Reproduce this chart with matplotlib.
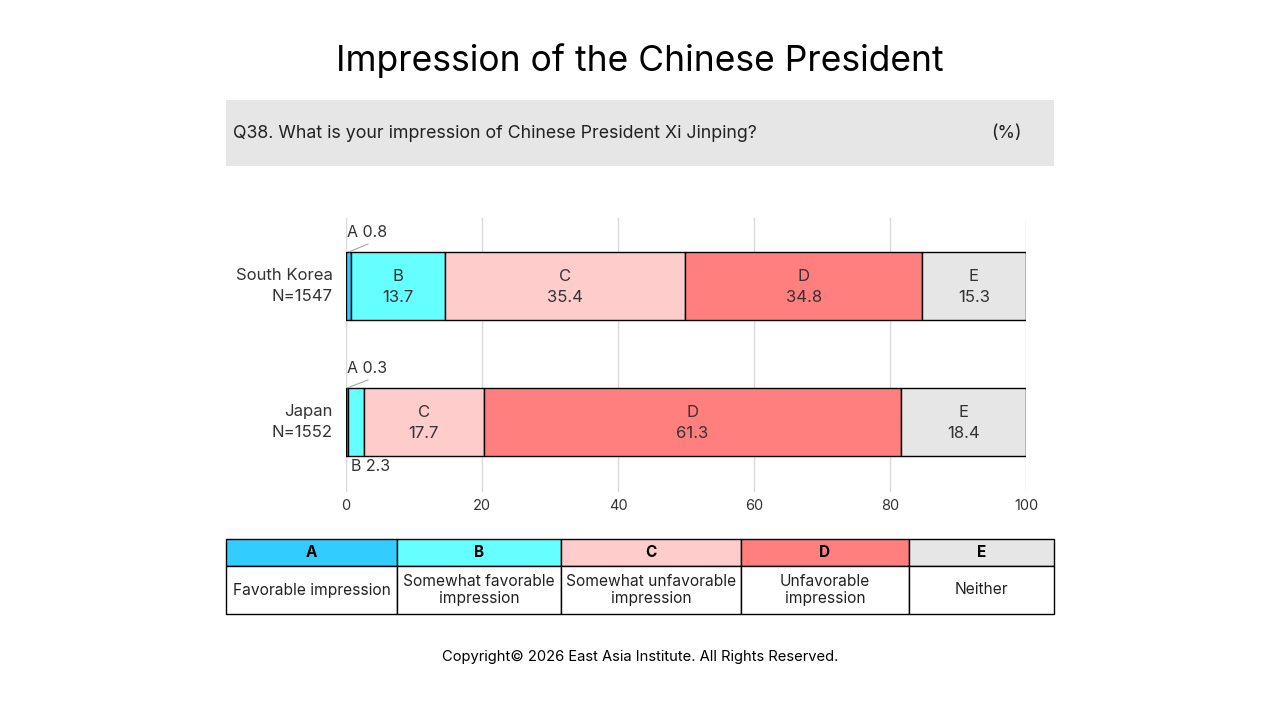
import matplotlib
matplotlib.use("Agg")
import matplotlib.pyplot as plt
from matplotlib.patches import Rectangle

plt.rcParams['font.family'] = ['Inter', 'DejaVu Sans']

countries = ["South Korea\nN=1547", "Japan\nN=1552"]
codes = ["A", "B", "C", "D", "E"]
descriptions = ["Favorable impression", "Somewhat favorable\nimpression",
                "Somewhat unfavorable\nimpression", "Unfavorable\nimpression", "Neither"]
values = {
    "A": [0.8, 0.3],
    "B": [13.7, 2.3],
    "C": [35.4, 17.7],
    "D": [34.8, 61.3],
    "E": [15.3, 18.4],
}
colors = {"A": "#33CCFF", "B": "#66FFFF", "C": "#FFCCCC", "D": "#FF7F7F", "E": "#E6E6E6"}
xticks = [0, 20, 40, 60, 80, 100]

W, H = 1280, 720
fig = plt.figure(figsize=(12.8, 7.2), dpi=100)

def fx(px):
    return px / W

def fy(py):
    return 1 - py / H

# Title
fig.text(0.5, fy(61), "Impression of the Chinese President", ha="center", va="center",
         fontsize=25.5, color="black")

# Question box
fig.patches.append(Rectangle((fx(226), fy(166)), fx(1054) - fx(226), fy(100) - fy(166),
                             transform=fig.transFigure, facecolor="#E6E6E6", edgecolor="none"))
fig.text(fx(233), fy(133), "Q38. What is your impression of Chinese President Xi Jinping?",
         ha="left", va="center", fontsize=12.8, color="#222222")
fig.text(fx(1006), fy(133), "(%)", ha="center", va="center", fontsize=12.8, color="#222222")

# Chart axes
ax = fig.add_axes([fx(346), fy(492), fx(1026) - fx(346), fy(218) - fy(492)])
ax.set_xlim(0, 100)
ax.set_ylim(1.515, -0.5)
ax.set_xticks(xticks)
ax.set_xticklabels([str(t) for t in xticks], fontsize=10.5, color="#333333")
ax.tick_params(axis="x", length=0, pad=5)
ax.set_yticks([])
for s in ax.spines.values():
    s.set_visible(False)
ax.grid(axis="x", color="#D9D9D9", linewidth=1)
ax.set_axisbelow(True)

ypos = [0, 1]
left = [0.0, 0.0]
for c in codes:
    vals = values[c]
    ax.barh(ypos, vals, left=left, height=0.5, color=colors[c], edgecolor="black", linewidth=1)
    for i, v in enumerate(vals):
        if v >= 5:
            ax.text(left[i] + v / 2, ypos[i] + 0.01, f"{c}\n{v}", ha="center", va="center",
                    fontsize=12, color="#333333", linespacing=1.5)
    left = [left[i] + vals[i] for i in range(len(vals))]

# Small-value annotations
for i in range(2):
    va_ = values["A"][i]
    ax.plot([va_ / 2, 3.3], [ypos[i] - 0.25, ypos[i] - 0.31], color="#A6A6A6", lw=0.8,
            solid_capstyle="butt")
    ax.text(0.2, ypos[i] - 0.335, f"A {va_}", ha="left", va="bottom", fontsize=11.5,
            color="#333333")
bj = values["B"][1]
ax.text(0.8, ypos[1] + 0.27, f"B {bj}", ha="left", va="top", fontsize=11.5, color="#333333")

# Country labels
for i, lab in enumerate(countries):
    ax.text(-2, ypos[i], lab, ha="right", va="center", fontsize=12, color="#333333",
            linespacing=1.5)

# Legend table
cols = [226, 397, 561, 741, 909, 1054]
top, mid, bot = 539, 566, 614
for j, c in enumerate(codes):
    x0, x1 = cols[j], cols[j + 1]
    fig.patches.append(Rectangle((fx(x0), fy(mid)), fx(x1) - fx(x0), fy(top) - fy(mid),
                                 transform=fig.transFigure, facecolor=colors[c],
                                 edgecolor="black", linewidth=1))
    fig.patches.append(Rectangle((fx(x0), fy(bot)), fx(x1) - fx(x0), fy(mid) - fy(bot),
                                 transform=fig.transFigure, facecolor="white",
                                 edgecolor="black", linewidth=1))
    fig.text(fx((x0 + x1) / 2), fy((top + mid) / 2), c, ha="center", va="center",
             fontsize=11, fontweight="bold", color="black")
    fig.text(fx((x0 + x1) / 2), fy((mid + bot) / 2), descriptions[j], ha="center",
             va="center", fontsize=11.2, color="#222222", linespacing=1.15)

# Copyright
fig.text(0.5, fy(657), "Copyright\u00a9 2026 East Asia Institute. All Rights Reserved.",
         ha="center", va="center", fontsize=10.6, color="black")

fig.savefig("out.png", dpi=100, facecolor="white")
